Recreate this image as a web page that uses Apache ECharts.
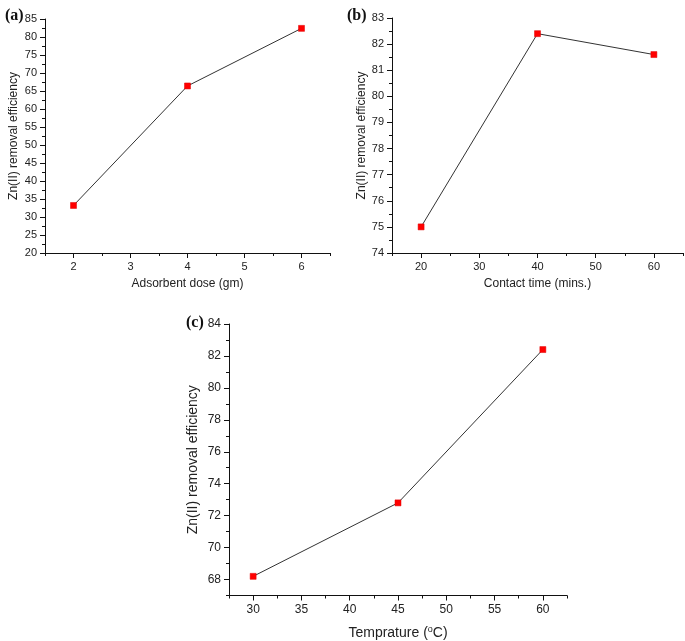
<!DOCTYPE html>
<html>
<head>
<meta charset="utf-8">
<script src="https://cdn.jsdelivr.net/npm/echarts@6/dist/echarts.min.js"></script>
<style>html,body{margin:0;padding:0;background:#fff;}#c{width:685px;height:641px;}</style>
</head>
<body>
<div id="c"></div>
<script>
// ---- data ----
const doseX = [2, 4, 6];
const doseY = [33.2, 66.4, 82.4];
const timeX = [20, 40, 60];
const timeY = [75.0, 82.4, 81.6];
const tempX = [30, 45, 60];
const tempY = [68.2, 72.8, 82.4];

// ---- ticks ----
const aXTicks = [2, 3, 4, 5, 6];
const aXMinor = [1.5, 2.5, 3.5, 4.5, 5.5, 6.5];
const aYTicks = [20, 25, 30, 35, 40, 45, 50, 55, 60, 65, 70, 75, 80, 85];
const aYMinor = [22.5, 27.5, 32.5, 37.5, 42.5, 47.5, 52.5, 57.5, 62.5, 67.5, 72.5, 77.5, 82.5];
const bXTicks = [20, 30, 40, 50, 60];
const bXMinor = [15, 25, 35, 45, 55, 65];
const bYTicks = [74, 75, 76, 77, 78, 79, 80, 81, 82, 83];
const bYMinor = [74.5, 75.5, 76.5, 77.5, 78.5, 79.5, 80.5, 81.5, 82.5];
const cXTicks = [30, 35, 40, 45, 50, 55, 60];
const cXMinor = [27.5, 32.5, 37.5, 42.5, 47.5, 52.5, 57.5, 62.5];
const cYTicks = [68, 70, 72, 74, 76, 78, 80, 82, 84];
const cYMinor = [67, 69, 71, 73, 75, 77, 79, 81, 83];

const FONT = 'Liberation Sans';
const TXT = '#222';

function mainAxis(dim, gi, min, max, ticks, name, nameGap, labelSize, nameSize, nameRich) {
  const ax = {
    type: 'value', gridIndex: gi, min: min, max: max,
    position: dim === 'x' ? 'bottom' : 'left',
    name: name, nameLocation: 'middle', nameGap: nameGap,
    nameTextStyle: { fontFamily: FONT, fontSize: nameSize, color: TXT },
    axisLine: { show: true, onZero: false, lineStyle: { color: '#111', width: 1 } },
    axisTick: { show: true, inside: false, length: 5, customValues: ticks, lineStyle: { color: '#111', width: 1 } },
    axisLabel: { show: true, customValues: ticks, fontFamily: FONT, fontSize: labelSize, color: TXT, margin: 8 },
    splitLine: { show: false }
  };
  if (nameRich) ax.nameTextStyle.rich = nameRich;
  return ax;
}
function minorAxis(dim, gi, min, max, ticks) {
  return {
    type: 'value', gridIndex: gi, min: min, max: max,
    position: dim === 'x' ? 'bottom' : 'left',
    axisLine: { show: false, onZero: false },
    axisTick: { show: true, inside: false, length: 3, customValues: ticks, lineStyle: { color: '#111', width: 1 } },
    axisLabel: { show: false },
    splitLine: { show: false }
  };
}
function lineSeries(xi, yi, xs, ys) {
  return {
    type: 'line', xAxisIndex: xi, yAxisIndex: yi,
    data: xs.map((x, i) => [x, ys[i]]),
    symbol: 'rect', symbolSize: 6,
    itemStyle: { color: '#ff0000', borderColor: '#e00000', borderWidth: 0.5 },
    lineStyle: { color: '#333', width: 1 },
    z: 3, animation: false
  };
}

const chart = echarts.init(document.getElementById('c'), null, { renderer: 'canvas' });
const panelTitle = (t, l, tp) => ({ text: t, left: l, top: tp, textStyle: { fontFamily: 'Liberation Serif', fontWeight: 'bold', fontSize: 16, color: '#111' } });

chart.setOption({
  animation: false,
  backgroundColor: '#fff',
  title: [panelTitle('(a)', 0, 3), panelTitle('(b)', 342, 3), panelTitle('(c)', 181, 310)],
  grid: [
    { left: 45, top: 19, width: 285, height: 234 },
    { left: 392, top: 18, width: 291, height: 235 },
    { left: 229, top: 324, width: 338, height: 272 }
  ],
  xAxis: [
    mainAxis('x', 0, 1.5, 6.5, aXTicks, 'Adsorbent dose (gm)', 25, 11, 12),
    minorAxis('x', 0, 1.5, 6.5, aXMinor),
    mainAxis('x', 1, 15, 65, bXTicks, 'Contact time (mins.)', 25, 11, 12),
    minorAxis('x', 1, 15, 65, bXMinor),
    mainAxis('x', 2, 27.5, 62.5, cXTicks, '{n|Temprature (}{s|o}{n|C)}', 30, 12, 14,
      { n: { fontFamily: FONT, fontSize: 14, color: TXT }, s: { fontFamily: FONT, fontSize: 9, color: TXT, padding: [0, 0, 6, 0] } }),
    minorAxis('x', 2, 27.5, 62.5, cXMinor)
  ],
  yAxis: [
    mainAxis('y', 0, 20, 85, aYTicks, 'Zn(II) removal efficiency', 25, 11, 12),
    minorAxis('y', 0, 20, 85, aYMinor),
    mainAxis('y', 1, 74, 83, bYTicks, 'Zn(II) removal efficiency', 24, 11, 12),
    minorAxis('y', 1, 74, 83, bYMinor),
    mainAxis('y', 2, 67, 84, cYTicks, 'Zn(II) removal efficiency', 29, 12, 14),
    minorAxis('y', 2, 67, 84, cYMinor)
  ],
  series: [
    lineSeries(0, 0, doseX, doseY),
    lineSeries(2, 2, timeX, timeY),
    lineSeries(4, 4, tempX, tempY)
  ]
});
</script>
</body>
</html>
